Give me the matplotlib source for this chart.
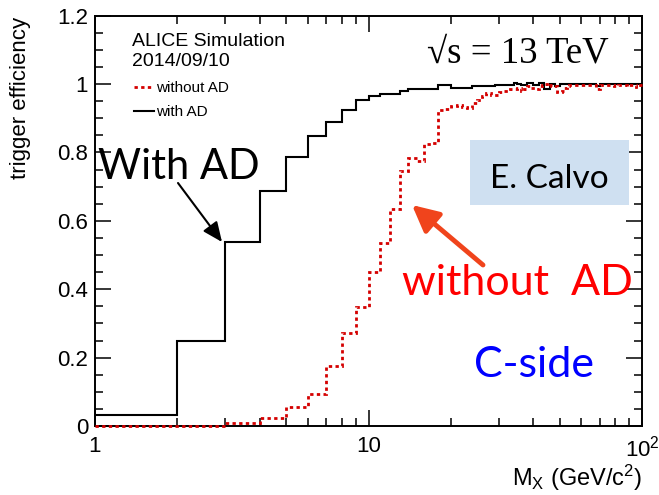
import matplotlib
matplotlib.use('Agg')
import matplotlib.pyplot as plt
from matplotlib.ticker import FixedLocator, FuncFormatter, MultipleLocator, NullFormatter
from matplotlib.patches import Rectangle

# ---------------- data ----------------
bin_edges = list(range(1, 101))   # M_X bins of 1 GeV/c^2, 1..100

eff_with_ad = [
    0.031, 0.250, 0.539, 0.686, 0.786, 0.847, 0.890, 0.925, 0.954, 0.964,   # 1-10
    0.971, 0.972, 0.981, 0.987, 0.986, 0.985, 0.986, 0.998, 0.998, 0.989,   # 11-20
    0.988, 0.988, 0.989, 0.994, 0.994, 0.993, 0.994, 0.995, 0.998,          # 21-29
    0.998, 0.998, 0.998, 0.998, 1.002, 1.000, 0.998, 0.998, 1.002, 1.002,   # 30-39
    0.998, 0.998, 1.002, 1.002, 0.987, 0.987, 1.000, 1.000, 0.995, 0.995,   # 40-49
    1.000, 1.000, 1.000, 1.000, 1.000, 1.000, 1.000, 1.000, 1.000, 1.000,   # 50-59
    1.000, 1.000, 1.000, 1.000, 1.000, 1.000, 1.000, 1.000, 0.993, 0.993,   # 60-69
    1.000, 1.000, 1.000, 1.000, 1.000, 1.000, 0.999, 1.000, 1.000, 1.000,   # 70-79
    1.000, 1.000, 1.000, 0.999, 1.000, 1.000, 1.000, 1.000, 1.000, 1.000,   # 80-89
    1.000, 1.000, 0.999, 1.000, 1.000, 1.000, 1.000, 1.000, 1.000, 1.000,   # 90-99
]

eff_without_ad = [
    0.000, 0.001, 0.008, 0.022, 0.057, 0.095, 0.175, 0.272, 0.348, 0.451,   # 1-10
    0.534, 0.635, 0.745, 0.785, 0.774, 0.826, 0.827, 0.925, 0.928, 0.936,   # 11-20
    0.940, 0.934, 0.929, 0.944, 0.952, 0.964, 0.974, 0.967, 0.968,          # 21-29
    0.976, 0.981, 0.981, 0.986, 0.986, 0.990, 0.981, 0.986, 0.995, 0.988,   # 30-39
    0.990, 0.986, 0.995, 0.998, 1.000, 0.995, 0.998, 0.993, 0.995, 0.976,   # 40-49
    0.976, 0.981, 0.990, 0.995, 0.997, 0.998, 0.996, 0.997, 0.998, 0.997,   # 50-59
    0.998, 0.998, 0.998, 0.998, 0.997, 0.997, 0.997, 0.997, 0.986, 0.986,   # 60-69
    0.997, 0.997, 0.997, 0.997, 0.997, 0.996, 0.996, 0.996, 0.996, 0.993,   # 70-79
    0.993, 0.993, 0.997, 0.997, 0.997, 0.998, 0.998, 0.998, 0.993, 0.993,   # 80-89
    0.997, 0.997, 0.997, 0.997, 0.997, 0.992, 0.992, 0.998, 0.998, 0.998,   # 90-99
]

x_major_ticks = [1, 10, 100]
x_major_labels = ['1', '10', r'10$^{2}$']
x_minor_ticks = [2, 3, 4, 5, 6, 7, 8, 9, 20, 30, 40, 50, 60, 70, 80, 90]

# ---------------- figure ----------------
plt.rcParams['font.family'] = ['Liberation Sans', 'DejaVu Sans']
plt.rcParams['mathtext.fontset'] = 'custom'
plt.rcParams['mathtext.rm'] = 'Liberation Sans'
plt.rcParams['mathtext.it'] = 'Liberation Sans:italic'

W, H = 659, 495
fig = plt.figure(figsize=(W / 100, H / 100), dpi=100)

def fx(x):
    return x / W

def fy(y):
    return 1 - y / H

L, R, T, B = 95, 642, 15.7, 426
ax = fig.add_axes([fx(L), fy(B), (R - L) / W, (B - T) / H])
ax.set_xscale('log')

h_black = ax.stairs(eff_with_ad, bin_edges, baseline=None, color='black',
                    lw=1.5, label='with AD', zorder=3)
h_red = ax.stairs(eff_without_ad, bin_edges, baseline=None, color='#d40000',
                  lw=2.0, linestyle=(0, (1.2, 1.2)), label='without AD', zorder=4,
                  clip_on=False)

ax.set_xlim(1, 100)
ax.set_ylim(0, 1.2)

ax.xaxis.set_major_locator(FixedLocator(x_major_ticks))
ax.set_xticklabels(x_major_labels)
ax.xaxis.set_minor_locator(FixedLocator(x_minor_ticks))
ax.xaxis.set_minor_formatter(NullFormatter())
ax.yaxis.set_major_locator(MultipleLocator(0.2))
ax.yaxis.set_minor_locator(MultipleLocator(0.05))
ax.yaxis.set_major_formatter(FuncFormatter(lambda v, p: f'{v:g}'))

for s in ax.spines.values():
    s.set_linewidth(1.4)
ax.tick_params(which='both', direction='in', top=True, right=True, width=1.1,
               labelsize=16)
ax.tick_params(which='major', length=11.5)
ax.tick_params(which='minor', length=5.8)
ax.tick_params(axis='x', which='major', pad=7)
ax.tick_params(axis='y', which='major', pad=5)

fig.text(fx(21), fy(17), 'trigger efficiency', rotation=90, ha='center', va='top',
         fontsize=16)
fig.text(fx(642), fy(486), r'M$_{\mathrm{X}}$ (GeV/c$^{2}$)', ha='right', va='baseline',
         fontsize=17)

# header texts
fig.text(fx(131.7), fy(45.7), 'ALICE Simulation', fontsize=14, va='baseline')
fig.text(fx(131.7), fy(65.7), '2014/09/10', fontsize=14, va='baseline')

ax.legend(handles=[h_red, h_black], loc='upper left',
          bbox_to_anchor=(fx(134), fy(81)), bbox_transform=fig.transFigure,
          frameon=False, fontsize=11, handlelength=1.3, handletextpad=0.15,
          labelspacing=0.65, borderpad=0, borderaxespad=0)

fig.text(fx(426.7), fy(62.7), '\u221As = 13 TeV', fontsize=26.5, va='baseline',
         family=['Liberation Serif', 'DejaVu Serif'])

# E. Calvo box
box = Rectangle((fx(470), fy(205)), (629 - 470) / W, (205 - 140) / H,
                transform=fig.transFigure, facecolor='#cfe0f1', edgecolor='none',
                zorder=1)
fig.patches.append(box)
fig.text(fx(549), fy(188.3), 'E. Calvo', fontsize=24, ha='center', va='baseline',
         family=['Lato', 'DejaVu Sans'], color='black')

# annotations
fig.text(fx(178.5), fy(179.3), 'With AD', fontsize=30, ha='center', va='baseline',
         family=['Lato', 'DejaVu Sans'], color='black')
fig.text(fx(517.5), fy(295), 'without  AD', fontsize=31, ha='center', va='baseline',
         family=['Lato', 'DejaVu Sans'], color='#ff0000')
fig.text(fx(533.5), fy(376.7), 'C-side', fontsize=31, ha='center', va='baseline',
         family=['Lato', 'DejaVu Sans'], color='#0000ff')

ax.annotate('', xy=(fx(222), fy(242)), xytext=(fx(178), fy(183)),
            xycoords='figure fraction', textcoords='figure fraction',
            arrowprops=dict(arrowstyle='-|>,head_length=0.8,head_width=0.35',
                            color='black', lw=1.5, mutation_scale=15,
                            shrinkA=0, shrinkB=0), zorder=6)
ax.annotate('', xy=(fx(412), fy(205)), xytext=(fx(483), fy(265)),
            xycoords='figure fraction', textcoords='figure fraction',
            arrowprops=dict(arrowstyle='-|>,head_length=0.8,head_width=0.4',
                            color='#f0441c', lw=3.5, mutation_scale=20,
                            shrinkA=0, shrinkB=0), zorder=6)

fig.savefig('out.png', dpi=100)
